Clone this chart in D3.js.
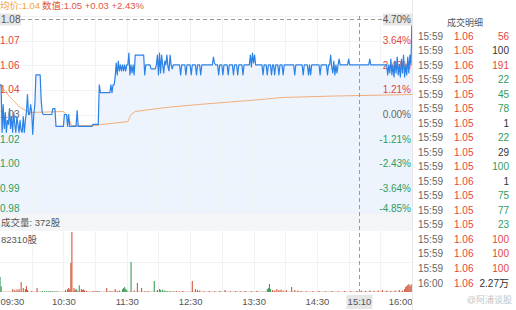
<!doctype html>
<html>
<head>
<meta charset="UTF-8" />
<script src="https://cdn.jsdelivr.net/npm/d3@7"></script>
<style>
	body { margin: 0; background: #fff; }
	svg text { font-family: "Liberation Sans", "Noto Sans CJK SC", sans-serif; }
</style>
</head>
<body>
<svg id="chart" width="516" height="310"></svg>
<script>
(function(){
	"use strict";

	// ---- data ----
	const prevClose = 1.025;
	const pctLevels = [4.85, 3.64, 2.43, 1.21, 0, -1.21, -2.43, -3.64, -4.85];
	const leftLabels = ["", "1.07", "1.06", "1.04", "1.03", "1.02", "1.00", "0.99", "0.98"];
	const rightLabels = ["", "3.64%", "2.43%", "1.21%", "0.00%", "-1.21%", "-2.43%", "-3.64%", "-4.85%"];

	const timeTickMins = [0, 60, 120, 180, 240, 300, 390];
	const timeTickLabels = ["09:30", "10:30", "11:30", "12:30", "13:30", "14:30", "16:00"];

	// [minutes after 09:30, price]
	const pricePoints = [
		[0,1.040],[1,1.040],[2,1.016],[3,1.030],[4,1.018],[5,1.026],[6,1.016],[7,1.022],[8,1.020],[9,1.028],
		[10,1.018],[11,1.024],[12,1.016],[13,1.026],[14,1.020],[15,1.016],[16,1.024],[17,1.020],[18,1.016],[19,1.022],
		[20,1.017],[21,1.016],[22,1.024],[23,1.016],[24,1.022],[25,1.026],[26,1.035],[27,1.025],[28,1.025],[29,1.030],
		[30,1.026],[31,1.015],[32,1.025],[33,1.030],[34,1.045],[38,1.045],[39,1.032],[40,1.026],
		[41,1.025],[49,1.025],[50,1.028],[52,1.028],[53,1.019],[60,1.019],[61,1.025],[63,1.025],[64,1.019],[65,1.025],
		[66,1.019],[72,1.019],[73,1.027],[74,1.019],[87,1.019],[88,1.020],[93,1.020],[94,1.040],[95,1.036],[104,1.036],
		[105,1.040],[106,1.036],[107,1.040],[108,1.040],
		[109,1.044],[110,1.051],[111,1.045],[112,1.052],[113,1.047],[114,1.050],[115,1.047],[116,1.050],[117,1.047],[118,1.050],
		[119,1.047],[120,1.050],[121,1.050],[122,1.056],[123,1.045],[124,1.050],[125,1.046],[126,1.050],[127,1.045],[128,1.055],
		[136,1.055],[137,1.045],[138,1.050],[142,1.050],[143,1.048],[147,1.048],[148,1.050],[149,1.055],[150,1.045],[151,1.056],
		[152,1.046],[153,1.055],[154,1.050],[155,1.046],[156,1.052],[157,1.050],[158,1.055],[159,1.049],[160,1.047],[161,1.055],
		[162,1.050],[163,1.048],[164,1.050],
		[170,1.050],[171,1.045],[172,1.050],[175,1.050],[176,1.045],[177,1.050],[180,1.050],[181,1.045],[182,1.050],[185,1.050],
		[186,1.045],[187,1.050],[189,1.050],[190,1.045],[191,1.050],[201,1.050],[202,1.054],[203,1.051],[204,1.050],[206,1.050],
		[207,1.045],[208,1.050],[210,1.050],[211,1.045],[212,1.050],[215,1.050],[216,1.045],[217,1.050],[220,1.050],[221,1.045],
		[222,1.050],[224,1.050],[225,1.045],[226,1.050],[229,1.050],[230,1.045],[231,1.050],[236,1.050],[237,1.055],[238,1.049],
		[239,1.056],[240,1.051],[241,1.055],[242,1.050],[248,1.050],[249,1.045],[250,1.050],[252,1.050],[253,1.045],[254,1.050],
		[256,1.050],[257,1.045],[258,1.050],[259,1.050],[260,1.045],[261,1.050],[263,1.050],[264,1.045],[265,1.050],[267,1.050],
		[268,1.045],[269,1.050],[278,1.050],[279,1.045],[280,1.050],[286,1.050],[287,1.045],[288,1.050],[291,1.050],[292,1.045],
		[293,1.050],[294,1.045],[295,1.050],[302,1.050],[303,1.045],[304,1.050],[309,1.050],[310,1.045],[311,1.050],
		[312,1.050],[313,1.055],[314,1.049],[315,1.046],[316,1.052],[317,1.045],[318,1.050],[319,1.046],[320,1.050],[321,1.053],
		[322,1.050],[329,1.050],[330,1.053],[331,1.050],[349,1.050],[350,1.053],[351,1.050],[366,1.050],
		[367,1.045],[368,1.050],[369,1.046],[370,1.053],[371,1.045],[372,1.050],[373,1.044],[374,1.052],[375,1.046],[376,1.054],
		[377,1.045],[378,1.050],[379,1.044],[380,1.053],[381,1.046],[382,1.055],[383,1.044],[384,1.050],[385,1.045],[386,1.054],
		[387,1.046],[388,1.055],[389,1.050],[390,1.075]
	];

	const avgPoints = [
		[0,1.040],[9,1.034],[19,1.0286],[28,1.026],[60,1.0265],[64,1.024],[68,1.0194],[92,1.0194],[95,1.0199],
		[121,1.0214],[124,1.025],[128,1.0265],[158,1.0286],[189,1.0301],[237,1.0321],[268,1.0336],[315,1.0343],[390,1.0351]
	];

	// [minutes, shares, 1 = up (red) / -1 = down (green)]
	const volBars = [
		[0,20600,-1],[1,8000,-1],[12,4100,1],[14,2700,1],[16,3400,1],[18,4100,1],[20,13700,1],[22,5500,1],[24,4100,1],
		[25,8200,1],[26,2700,1],[30,1400,1],[35,5500,1],[40,1400,-1],[42,1000,-1],[44,1400,-1],[46,1000,-1],[48,1400,-1],
		[50,1000,-1],[52,800,-1],[54,1000,-1],[62,2700,1],[64,4100,1],[65,5500,1],[66,3400,1],[67,39800,1],[68,82310,1],
		[70,5500,1],[71,2700,1],[72,4100,-1],[73,2000,1],[75,9200,-1],[77,4100,1],[78,2700,1],[79,3400,1],[80,2000,1],
		[82,1400,1],[88,1400,1],[90,1000,1],[92,1400,1],[94,1000,1],[101,5500,1],[104,1400,1],[106,1000,1],[109,4100,1],
		[111,1400,1],[113,2000,1],[116,4100,-1],[117,5500,-1],[118,6800,-1],[119,4100,-1],[120,2700,-1],[124,41200,-1],
		[127,2000,1],[130,12300,1],[134,5500,1],[137,1000,1],[140,1400,1],[146,15100,-1],[149,2700,-1],[151,4100,-1],
		[152,2700,-1],[154,3400,-1],[156,2000,-1],[158,1400,-1],[161,1400,-1],[164,1000,1],[167,1400,1],[170,1000,1],
		[173,1400,1],[182,15100,1],[185,4100,1],[187,2700,1],[189,2000,1],[193,1000,1],[198,1400,1],[203,1000,1],
		[208,1400,-1],[213,2700,1],[218,1000,1],[223,1400,1],[228,1000,1],[232,1400,1],[238,1000,1],[243,1400,1],
		[253,4100,-1],[254,5500,-1],[255,11000,-1],[256,4100,-1],[258,2700,1],[260,2000,1],[262,4100,1],[264,2700,1],
		[266,3400,1],[268,2000,1],[271,2700,1],[276,6800,1],[279,2700,1],[282,2000,1],[285,1400,1],[290,1000,1],
		[296,1000,1],[302,1400,1],[308,1000,1],[314,1400,1],[320,1000,1],[326,1400,1],[332,1000,1],[338,1400,1],
		[342,2000,1],[346,1400,1],[350,2000,1],[354,1400,1],[358,2000,1],[362,2700,1],[366,2000,1],[370,1400,1],
		[374,2000,1],[378,2700,1],[381,2000,1],[383,4100,1],[384,6800,1],[385,8200,1],[386,9600,1],[387,11000,1],
		[388,8200,1],[389,9600,1],[390,11000,1]
	];
	const volMax = 82310;

	const tradeTimes = ["15:59","15:59","15:59","15:59","15:59","15:59","15:59","15:59","15:59","15:59","15:59","15:59","15:59","15:59","15:59","15:59","15:59","16:00"];
	const tradePrices = ["1.06","1.05","1.06","1.05","1.05","1.05","1.05","1.05","1.05","1.05","1.06","1.05","1.05","1.05","1.06","1.06","1.06","1.06"];
	const tradeVols = ["56","100","191","22","45","78","1","22","29","100","1","75","77","23","100","100","100","2.27万"];
	const tradeDirs = [1,0,1,-1,-1,-1,0,-1,0,-1,0,-1,-1,-1,1,1,1,0];

	const crossMin = 340, crossLabel = "15:10";
	const crossPct = 4.70, crossPrice = "1.08", crossPctLabel = "4.70%";

	// ---- layout ----
	const red = "#e2473b", green = "#2f9d5d", gray = "#666", blue = "#2d82e6";
	const plotRight = 412;
	const mainTop = 16, mainBottom = 213;
	const volTop = 232, volBottom = 292;

	const svg = d3.select("#chart");
	const x = d3.scaleLinear().domain([0, 390]).range([0, plotRight]);
	const y = d3.scaleLinear()
		.domain([prevClose * (1 - 0.0485), prevClose * (1 + 0.0485)])
		.range([mainBottom, mainTop]);
	const yPct = d3.scaleLinear().domain([-4.85, 4.85]).range([mainBottom, mainTop]);
	const yv = d3.scaleLinear().domain([0, volMax]).range([volBottom, volTop]);

	svg.append("rect").attr("width", 516).attr("height", 310).attr("fill", "#fff");

	// area under price
	svg.append("path")
		.datum(pricePoints)
		.attr("fill", "#edf4fd")
		.attr("d", d3.area().x(d => x(d[0])).y0(mainBottom).y1(d => y(d[1])));

	// grid
	const grid = svg.append("g").attr("stroke", "#f1f2f5").attr("stroke-width", 1);
	grid.selectAll("line.h").data(pctLevels).enter().append("line")
		.attr("x1", 0).attr("x2", plotRight)
		.attr("y1", d => Math.round(yPct(d)) + 0.5).attr("y2", d => Math.round(yPct(d)) + 0.5);
	grid.selectAll("line.v").data(d3.range(30, 390, 30)).enter().append("line")
		.attr("x1", d => Math.round(x(d)) + 0.5).attr("x2", d => Math.round(x(d)) + 0.5)
		.attr("y1", mainTop).attr("y2", mainBottom);
	grid.selectAll("line.vv").data(d3.range(30, 390, 30)).enter().append("line")
		.attr("x1", d => Math.round(x(d)) + 0.5).attr("x2", d => Math.round(x(d)) + 0.5)
		.attr("y1", 231).attr("y2", volBottom);
	grid.append("line").attr("x1", 0).attr("x2", plotRight)
		.attr("y1", Math.round(yv(volMax / 2)) + 0.5).attr("y2", Math.round(yv(volMax / 2)) + 0.5);

	// average line
	svg.append("path")
		.datum(avgPoints)
		.attr("fill", "none")
		.attr("stroke", "#f2ae7a")
		.attr("stroke-width", 1)
		.attr("d", d3.line().x(d => x(d[0])).y(d => y(d[1])));

	// axis labels (price line is drawn over them)
	const lvlColor = function(v){ return v > 0 ? red : (v < 0 ? green : gray); };
	const labelY = function(v){ return Math.min(mainBottom - 5, yPct(v)); };
	svg.append("g").selectAll("text").data(pctLevels).enter().append("text")
		.attr("x", 0).attr("y", d => labelY(d)).attr("dy", "0.35em")
		.attr("font-size", 10).attr("fill", d => lvlColor(d))
		.text((d, i) => leftLabels[i]);
	svg.append("g").selectAll("text").data(pctLevels).enter().append("text")
		.attr("x", plotRight - 1).attr("y", d => labelY(d)).attr("dy", "0.35em")
		.attr("text-anchor", "end")
		.attr("font-size", 10).attr("fill", d => lvlColor(d))
		.text((d, i) => rightLabels[i]);

	// price line
	svg.append("path")
		.datum(pricePoints)
		.attr("fill", "none")
		.attr("stroke", blue)
		.attr("stroke-width", 1.2)
		.attr("stroke-linejoin", "round")
		.attr("d", d3.line().x(d => x(d[0])).y(d => y(d[1])));

	// volume header band
	svg.append("rect").attr("x", 0).attr("y", mainBottom + 1).attr("width", plotRight).attr("height", 17).attr("fill", "#f4f5f7");
	svg.append("text").attr("x", 1).attr("y", 226).attr("font-size", 9.5).attr("fill", "#555").text("成交量: 372股");
	svg.append("text").attr("x", 1).attr("y", 243).attr("font-size", 9.5).attr("fill", "#555").text(volMax + "股");

	// volume bars
	svg.append("line").attr("x1", 0).attr("x2", plotRight)
		.attr("y1", volBottom - 0.5).attr("y2", volBottom - 0.5)
		.attr("stroke", "#eed8d2");
	svg.append("g").selectAll("rect").data(volBars).enter().append("rect")
		.attr("x", d => x(d[0]) - 0.5)
		.attr("width", 1.1)
		.attr("y", d => yv(d[1]))
		.attr("height", d => volBottom - yv(d[1]))
		.attr("fill", d => d[2] > 0 ? "#cf5a3f" : "#3d9e5f");

	// crosshair
	const cx = Math.round(x(crossMin)) + 0.5;
	const cy = Math.round(yPct(crossPct)) + 0.5;
	svg.append("line").attr("x1", cx).attr("x2", cx).attr("y1", mainTop).attr("y2", volBottom)
		.attr("stroke", "#9a9a9a").attr("stroke-dasharray", "4,3");
	svg.append("line").attr("x1", 0).attr("x2", plotRight).attr("y1", cy).attr("y2", cy)
		.attr("stroke", "#9a9a9a").attr("stroke-dasharray", "4,3");
	svg.append("rect").attr("x", 0).attr("y", cy - 6).attr("width", 21).attr("height", 12).attr("fill", "#e6e6e6");
	svg.append("text").attr("x", 1).attr("y", cy).attr("dy", "0.35em").attr("font-size", 10).attr("fill", "#555").text(crossPrice);
	svg.append("rect").attr("x", plotRight - 29).attr("y", cy - 6).attr("width", 29).attr("height", 12).attr("fill", "#e6e6e6");
	svg.append("text").attr("x", plotRight - 1).attr("y", cy).attr("dy", "0.35em").attr("text-anchor", "end")
		.attr("font-size", 10).attr("fill", "#555").text(crossPctLabel);

	// time axis
	const xAxis = svg.append("g").attr("transform", "translate(0," + volBottom + ")")
		.call(d3.axisBottom(x).tickValues(timeTickMins).tickSize(0).tickPadding(6)
			.tickFormat((d, i) => timeTickLabels[i]));
	xAxis.select(".domain").remove();
	xAxis.selectAll("text").attr("font-size", 9.5).attr("fill", "#555").attr("font-family", null)
		.attr("text-anchor", (d, i) => i === 0 ? "start" : (i === timeTickMins.length - 1 ? "end" : "middle"));
	svg.append("rect").attr("x", cx - 13).attr("y", 295).attr("width", 26).attr("height", 14).attr("fill", "#e6e6e6");
	svg.append("text").attr("x", cx).attr("y", 305).attr("text-anchor", "middle")
		.attr("font-size", 9.5).attr("fill", "#555").text(crossLabel);

	// trade detail panel
	svg.append("line").attr("x1", plotRight + 0.5).attr("x2", plotRight + 0.5).attr("y1", 0).attr("y2", 310)
		.attr("stroke", "#e6e6e6");
	svg.append("text").attr("x", 465).attr("y", 26).attr("text-anchor", "middle")
		.attr("font-size", 9).attr("fill", "#555").text("成交明细");
	const row = d3.scalePoint().domain(d3.range(tradeTimes.length)).range([36, 283]);
	const rows = svg.append("g").selectAll("g").data(d3.range(tradeTimes.length)).enter().append("g")
		.attr("transform", i => "translate(0," + row(i) + ")")
		.attr("font-size", 10);
	rows.append("text").attr("x", 418).attr("dy", "0.35em").attr("fill", gray).text(i => tradeTimes[i]);
	rows.append("text").attr("x", 454).attr("dy", "0.35em")
		.attr("fill", i => +tradePrices[i] > prevClose ? red : green).text(i => tradePrices[i]);
	rows.append("text").attr("x", 509).attr("dy", "0.35em").attr("text-anchor", "end")
		.attr("fill", i => tradeDirs[i] > 0 ? red : (tradeDirs[i] < 0 ? green : "#333")).text(i => tradeVols[i]);

	svg.append("text").attr("x", 512).attr("y", 303).attr("text-anchor", "end")
		.attr("font-size", 9).attr("fill", "#c4c4c4").text("@阿浦谈股");

	// legend
	svg.append("text").attr("x", 0).attr("y", 9).attr("font-size", 9.5).attr("fill", "#f0a43a").text("均价:1.04");
	svg.append("text").attr("x", 42).attr("y", 9).attr("font-size", 9.5).attr("fill", "#e2583e").text("数值:1.05 +0.03 +2.43%");
})();
</script>
</body>
</html>
